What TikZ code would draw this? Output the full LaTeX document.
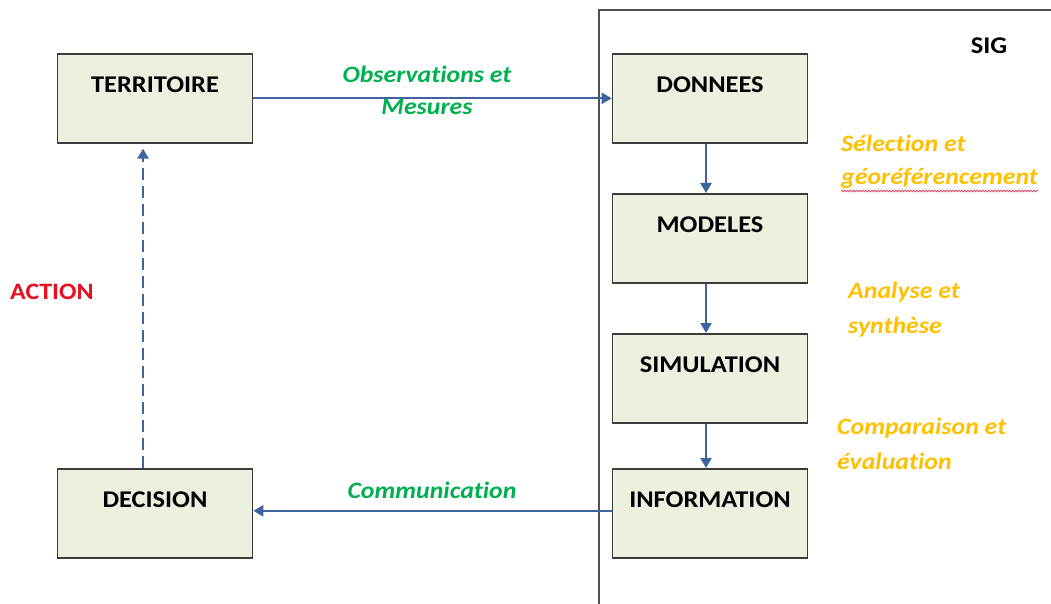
\documentclass[tikz,border=0pt]{standalone}
\usepackage{fontspec}
\setmainfont{Carlito}[FakeStretch=1.1, Ligatures=NoCommon]
\usetikzlibrary{arrows.meta,decorations.pathmorphing}
\definecolor{boxfill}{HTML}{EBF1DE}
\definecolor{boxline}{HTML}{3C3C3C}
\definecolor{flowblue}{RGB}{62,100,160}
\definecolor{framegray}{HTML}{505050}
\definecolor{labelgreen}{RGB}{0,176,80}
\definecolor{labelorange}{HTML}{FFC000}
\definecolor{labelred}{RGB}{232,16,30}
\definecolor{squiggle}{RGB}{220,60,90}
\tikzset{
  stage/.style={draw=boxline, line width=1.6pt, fill=boxfill, anchor=north,
    minimum width=195pt, inner sep=0pt, text height=39pt, text depth=50pt,
    font=\bfseries\fontsize{24}{28}\selectfont},
  flow/.style={draw=flowblue, line width=2.2pt, -{Triangle[length=10pt,width=11pt]}},
  stepnote/.style={anchor=base west, inner sep=0pt, text=labelorange,
    font=\bfseries\itshape\fontsize{23.5}{27}\selectfont},
  linknote/.style={anchor=base, inner sep=0pt, text=labelgreen,
    font=\bfseries\itshape\fontsize{23.5}{27}\selectfont}
}
\begin{document}
\begin{tikzpicture}[x=1pt,y=-1pt]
\useasboundingbox (0,0) rectangle (1051,604);
\fill[white] (0,0) rectangle (1051,604);

% SIG frame (open towards the right and bottom)
\draw[framegray, line width=2pt] (1060,10) -- (599,10) -- (599,610);
\node[anchor=base, inner sep=0pt, font=\bfseries\fontsize{24}{28}\selectfont] (sig) at (989,54) {SIG};

% Boxes
\node[stage] (terr) at (155,53)  {TERRITOIRE};
\node[stage] (dec)  at (155,468) {DECISION};
\node[stage] (donn) at (710,53)  {DONNEES};
\node[stage] (mod)  at (710,193) {MODELES};
\node[stage] (simu) at (710,333) {SIMULATION};
\node[stage] (info) at (710,468) {INFORMATION};

% Flows
\draw[flow] (terr.east) -- (donn.west);
\draw[flow] ([xshift=-4pt]donn.south) -- ([xshift=-4pt]mod.north);
\draw[flow] ([xshift=-4pt]mod.south) -- ([xshift=-4pt]simu.north);
\draw[flow] ([xshift=-4pt]simu.south) -- ([xshift=-4pt]info.north);
\draw[flow] ([yshift=2.5pt]info.west) -- ([yshift=2.5pt]dec.east);
\draw[flow, line width=2.8pt, dash pattern=on 12pt off 6pt, shorten >=5pt]
  ([xshift=-12pt]dec.north) -- ([xshift=-12pt]terr.south);

% Link labels
\node[linknote] (obs) at (427,83)  {Observations et};
\node[linknote] (mes) at (427,115) {Mesures};
\node[linknote] (com) at (432,498) {Communication};
\node[anchor=base west, inner sep=0pt, text=labelred,
      font=\bfseries\fontsize{23.5}{27}\selectfont] (act) at (10,299) {ACTION};

% Processing steps
\node[stepnote] (sel)  at (841,152) {Sélection et};
\node[stepnote] (geo)  at (841,185) {géoréférencement};
\node[stepnote] (ana)  at (848,298) {Analyse et};
\node[stepnote] (syn)  at (848,333) {synthèse};
\node[stepnote] (comp) at (837,434) {Comparaison et};
\node[stepnote] (eval) at (837,469) {évaluation};
\draw[squiggle, line width=0.7pt, decorate,
      decoration={snake, amplitude=0.9pt, segment length=3pt}]
  ([yshift=-6pt]geo.base west) -- ([yshift=-6pt]geo.base east);
\end{tikzpicture}
\end{document}
